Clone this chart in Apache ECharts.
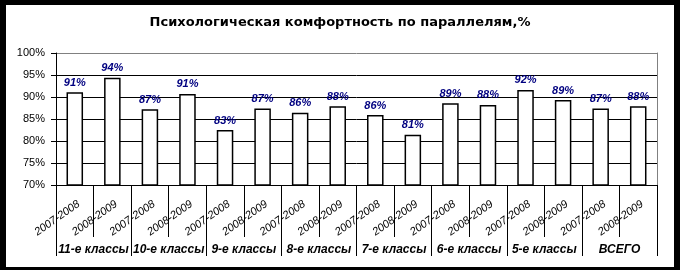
<!DOCTYPE html>
<html>
<head>
<meta charset="utf-8">
<script src="https://cdn.jsdelivr.net/npm/echarts@6/dist/echarts.min.js"></script>
<style>
html,body{margin:0;padding:0;background:#000;width:680px;height:270px;overflow:hidden;}
#chart{position:absolute;left:6px;top:5px;width:668px;height:262px;background:#fff;}
</style>
</head>
<body>
<div id="chart"></div>
<script>
const titleText = 'Психологическая комфортность по параллелям,%';
const categories = ['2007-2008','2008-2009','2007-2008','2008-2009','2007-2008','2008-2009','2007-2008','2008-2009',
                    '2007-2008','2008-2009','2007-2008','2008-2009','2007-2008','2008-2009','2007-2008','2008-2009'];
const groups = ['11-е классы','10-е классы','9-е классы','8-е классы','7-е классы','6-е классы','5-е классы','ВСЕГО'];
const values = [91.1, 94.4, 87.2, 90.7, 82.5, 87.4, 86.4, 87.9, 85.9, 81.4, 88.6, 88.2, 91.6, 89.3, 87.4, 87.9];
const yMin = 70, yMax = 100, yStep = 5;

const font = 'Liberation Sans, Arial, sans-serif';
const chart = echarts.init(document.getElementById('chart'));
chart.setOption({
  animation: false,
  backgroundColor: '#fff',
  title: {
    text: titleText, left: 'center', top: 6,
    textStyle: {fontFamily: 'DejaVu Sans', fontSize: 13, fontWeight: 'bold', color: '#000'}
  },
  grid: [
    {left: 50, right: 17, top: 48, bottom: 82},
    {left: 54, right: 13, top: 48, bottom: 82}
  ],
  xAxis: [
    {
      type: 'category', gridIndex: 0, data: categories,
      axisLine: {lineStyle: {color: '#000', width: 1}},
      axisTick: {show: true, interval: 0, length: 52, lineStyle: {color: '#000'}},
      axisLabel: {show: false}
    },
    {
      type: 'category', gridIndex: 0, position: 'bottom', offset: 52, data: groups,
      axisLine: {show: false},
      axisTick: {show: true, interval: 0, length: 19, lineStyle: {color: '#000'}},
      axisLabel: {interval: 0, margin: 7, fontFamily: font, fontSize: 12, fontWeight: 'bold', fontStyle: 'italic', color: '#000'}
    },
    {
      type: 'category', gridIndex: 1, data: categories,
      axisLine: {show: false}, axisTick: {show: false},
      axisLabel: {interval: 0, rotate: 35, margin: 18, fontFamily: font, fontSize: 11, fontStyle: 'italic', color: '#000'}
    }
  ],
  yAxis: [
    {
      type: 'value', gridIndex: 0, min: yMin, max: yMax, interval: yStep,
      axisLine: {show: true, lineStyle: {color: '#000'}},
      axisTick: {show: true, length: 5, lineStyle: {color: '#000'}},
      axisLabel: {formatter: '{value}%', margin: 11, fontFamily: font, fontSize: 11, color: '#000'},
      splitLine: {show: true, lineStyle: {color: ['#000','#000','#000','#000','#000','#000','#808080'], width: 1}}
    },
    {
      type: 'value', gridIndex: 0, position: 'right', min: yMin, max: yMax, interval: yStep,
      axisLine: {show: true, lineStyle: {color: '#808080'}},
      axisTick: {show: false}, axisLabel: {show: false}, splitLine: {show: false}
    },
    {
      type: 'value', gridIndex: 1, min: yMin, max: yMax, show: false
    }
  ],
  series: [{
    type: 'bar', xAxisIndex: 0, yAxisIndex: 0, data: values, barWidth: '44%',
    itemStyle: {color: '#fff', borderColor: '#000', borderWidth: 1.5},
    label: {
      show: true, position: 'top', distance: 4,
      formatter: p => Math.round(p.value) + '%',
      fontFamily: font, fontSize: 11, fontWeight: 'bold', fontStyle: 'italic', color: '#000080'
    }
  }]
});
</script>
</body>
</html>
